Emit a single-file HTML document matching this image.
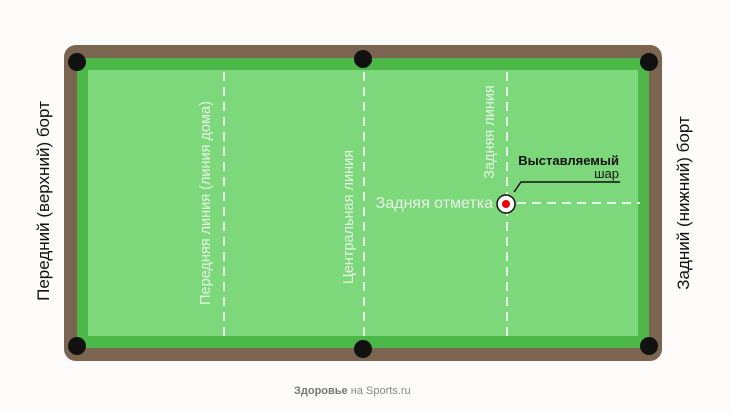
<!DOCTYPE html>
<html><head><meta charset="utf-8"><style>body{margin:0;background:#fff}svg{display:block}</style></head><body>
<svg width="730" height="412" viewBox="0 0 730 412" xmlns="http://www.w3.org/2000/svg" font-family="Liberation Sans, sans-serif">
<rect width="730" height="412" fill="#fdfbfa"/>
<rect x="64" y="45" width="598" height="316" rx="12" fill="#7c6550"/>
<rect x="77" y="58" width="572" height="290" fill="#4cb848"/>
<rect x="88" y="70" width="550" height="266" fill="#7dd87c"/>
<g stroke="#e8f6e6" stroke-width="2" stroke-dasharray="9,6" fill="none">
<line x1="224" y1="72" x2="224" y2="336"/>
<line x1="364" y1="72" x2="364" y2="336"/>
<line x1="507" y1="72" x2="507" y2="336"/>
<line x1="517" y1="203" x2="640" y2="203"/>
</g>
<g fill="#111">
<circle cx="77" cy="62" r="9"/><circle cx="363" cy="59" r="9"/><circle cx="649" cy="62" r="9"/>
<circle cx="77" cy="346" r="9"/><circle cx="363" cy="349" r="9"/><circle cx="649" cy="346" r="9"/>
</g>
<circle cx="506" cy="204" r="9" fill="#fff" stroke="#111" stroke-width="1.5"/>
<circle cx="506" cy="204" r="4" fill="#e00"/>
<polyline points="514,192 521,182 620,182" fill="none" stroke="#111" stroke-width="1.5"/>
<text x="619" y="165" font-size="13" font-weight="bold" text-anchor="end" fill="#111">Выставляемый</text>
<text x="619" y="178" font-size="13" text-anchor="end" fill="#111">шар</text>
<g fill="#e6f5e4" font-size="14.5">
<text x="493" y="208" text-anchor="end" font-size="16">Задняя отметка</text>
<text transform="translate(210,203) rotate(-90)" text-anchor="middle">Передняя линия (линия дома)</text>
<text transform="translate(353,217) rotate(-90)" text-anchor="middle">Центральная линия</text>
<text transform="translate(494,132) rotate(-90)" text-anchor="middle">Задняя линия</text>
</g>
<g fill="#111" font-size="17">
<text transform="translate(49,201) rotate(-90)" text-anchor="middle">Передний (верхний) борт</text>
<text transform="translate(689,203) rotate(-90)" text-anchor="middle">Задний (нижний) борт</text>
</g>
<text x="294" y="394" font-size="11" fill="#888"><tspan font-weight="bold" fill="#777">Здоровье</tspan> на Sports.ru</text>
</svg>
</body></html>
